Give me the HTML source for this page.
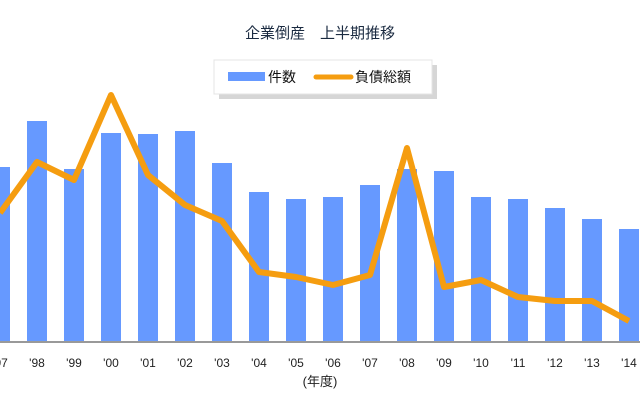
<!DOCTYPE html>
<html><head><meta charset="utf-8"><style>
body{margin:0;background:#fff;}
svg{display:block;font-family:"Liberation Sans","Noto Sans CJK JP",sans-serif;}
</style></head><body>
<svg id="chart" width="640" height="400">
<text x="320" y="38" text-anchor="middle" font-size="15" fill="#1a2a40">企業倒産　上半期推移</text>
<g>
<rect x="216" y="62" width="218" height="34" fill="#bbb" opacity="0.6" transform="translate(3,3)"/>
<rect x="214" y="60" width="218" height="34" fill="#fff" stroke="#e4e4e4"/>
<rect x="228" y="72" width="37" height="9" fill="#6699ff"/>
<text x="268" y="82" font-size="14" fill="#111">件数</text>
<line x1="316" y1="77" x2="351" y2="77" stroke="#f59d10" stroke-width="5" stroke-linecap="round"/>
<text x="355" y="82" font-size="14" fill="#111">負債総額</text>
</g>
<g id="bars"></g>
<line x1="0" y1="342" x2="640" y2="342" stroke="#999" stroke-width="2"/>
<polyline id="debt" fill="none" stroke="#f59d10" stroke-width="6" stroke-linejoin="round"/>
<g id="ticks"></g>
<text x="320" y="386" text-anchor="middle" font-size="13" fill="#222">(年度)</text>
</svg>
<script>
const years = ["'97","'98","'99","'00","'01","'02","'03","'04","'05","'06","'07","'08","'09","'10","'11","'12","'13","'14"];
const counts = [6125,7735,6055,7315,7280,7385,6265,5250,5005,5075,5495,6055,5985,5075,5005,4690,4305,3955];
const debt = [51600,72000,64800,98800,66800,54800,48400,28000,26000,22800,26800,77600,22000,24800,18000,16400,16400,8400];
const x = i => 0 + i*37;
const yCount = v => 342 - v/35;
const yDebt = v => 342 - v/400;
const ns="http://www.w3.org/2000/svg";
const bars=document.getElementById('bars'), ticks=document.getElementById('ticks');
years.forEach((yr,i)=>{
  const r=document.createElementNS(ns,'rect');
  r.setAttribute('x',x(i)-10);r.setAttribute('y',yCount(counts[i]));
  r.setAttribute('width',20);r.setAttribute('height',342-yCount(counts[i]));
  r.setAttribute('fill','#6699ff');
  
  
  bars.appendChild(r);
  const t=document.createElementNS(ns,'text');
  t.setAttribute('x',x(i));t.setAttribute('y',367);t.setAttribute('text-anchor','middle');
  t.setAttribute('font-size','12');t.setAttribute('fill','#222');t.textContent=yr;
  
  
  ticks.appendChild(t);
});
document.getElementById('debt').setAttribute('points',debt.map((v,i)=>x(i)+','+yDebt(v)).join(' '));
</script>
</body></html>
